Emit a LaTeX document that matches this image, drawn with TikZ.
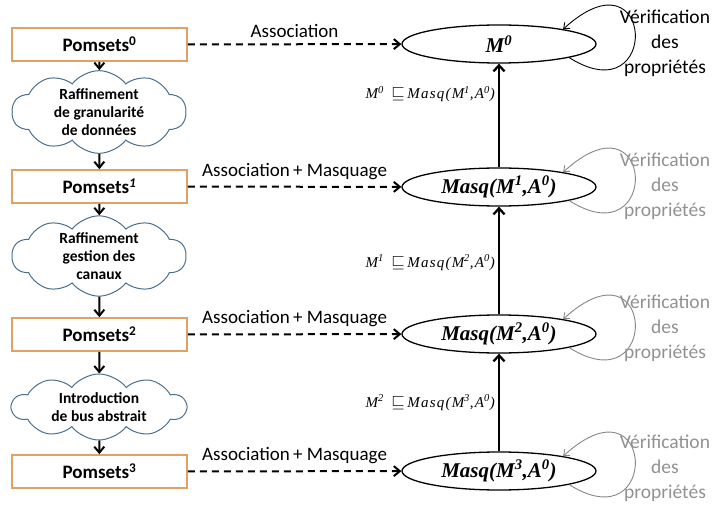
\documentclass[tikz,border=0pt]{standalone}
\usepackage{fontspec}
\setmainfont{Carlito}
\newfontfamily\tnr{Liberation Serif}
\newfontfamily\tnrs[LetterSpace=8]{Liberation Serif}
\usetikzlibrary{shapes.symbols,shapes.geometric,arrows.meta}
\definecolor{boxor}{RGB}{224,162,100}
\definecolor{cloudc}{RGB}{75,110,140}
\definecolor{grayc}{RGB}{130,135,140}
\definecolor{grayt}{RGB}{145,145,145}
\newcommand{\sqle}{{\fontsize{18}{18}\selectfont$\sqsubseteq$}}
\begin{document}
\begin{tikzpicture}[x=1pt,y=-1pt,
 pbox/.style={draw=boxor, fill=white, line width=1.6pt, minimum width=175pt, minimum height=33pt, font=\fontsize{19}{20}\selectfont\bfseries, inner sep=0pt},
 cl/.style={cloud, cloud puffs=10, cloud puff arc=105, draw=cloudc, line width=1pt, cloud ignores aspect, minimum width=174pt, minimum height=66pt, align=center, font=\fontsize{15.5}{18}\selectfont\bfseries, inner sep=0pt},
 el/.style={ellipse, draw, line width=1.3pt, minimum width=194pt, minimum height=38pt, inner sep=0pt, font=\tnr\fontsize{21}{24}\selectfont\bfseries\itshape},
 down/.style={-{Straight Barb[length=6pt,width=10pt]}, line width=2pt},
 assoc/.style={-{Straight Barb[length=6pt,width=10pt]}, line width=2pt, dash pattern=on 7pt off 5pt},
 up/.style={-{Straight Barb[length=6pt,width=11pt]}, line width=2.3pt},
 loopc/.style={-{Straight Barb[length=5pt,width=8pt]}, line width=0.9pt},
 atxt/.style={font=\fontsize{19}{20}\selectfont, inner sep=0pt},
 vtxt/.style={align=center, font=\fontsize{19.5}{25}\selectfont, inner sep=0pt},
 lab/.style={font=\tnrs\fontsize{15}{16}\selectfont\itshape, inner sep=0pt, anchor=east}
]
\useasboundingbox (0,0) rectangle (714,505);

% left column
\node[pbox] (p0) at (99.5,44.5) {Pomsets\textsuperscript{0}};
\node[cl] (c0) at (99,112) {Raffinement\\de granularité\\de données};
\node[pbox] (p1) at (99.5,186.5) {Pomsets\textsuperscript{\textit{1}}};
\node[cl] (c1) at (99,256) {Raffinement\\gestion des\\canaux};
\node[pbox] (p2) at (99.5,334.5) {Pomsets\textsuperscript{2}};
\node[cl] (c2) at (99,407) {Introduction\\de bus abstrait};
\node[pbox] (p3) at (99.5,471.5) {Pomsets\textsuperscript{3}};

\draw[down] (p0) -- (c0);
\draw[down] (c0) -- (p1);
\draw[down] (p1) -- (c1);
\draw[down] (c1) -- (p2);
\draw[down] (p2) -- (c2);
\draw[down] (c2) -- (p3);

% right column
\node[el] (e0) at (499,44) {M\textsuperscript{0}};
\node[el] (e1) at (499,187) {Masq(M\textsuperscript{1},A\textsuperscript{0})};
\node[el] (e2) at (499,334) {Masq(M\textsuperscript{2},A\textsuperscript{0})};
\node[el] (e3) at (499,471) {Masq(M\textsuperscript{3},A\textsuperscript{0})};

\draw[assoc] (p0) -- node[atxt, above=6pt] {Association} (e0);
\draw[assoc] (p1) -- node[atxt, above=6pt] {Association\,+ Masquage} (e1);
\draw[assoc] (p2) -- node[atxt, above=6pt] {Association\,+ Masquage} (e2);
\draw[assoc] (p3) -- node[atxt, above=6pt] {Association\,+ Masquage} (e3);

\draw[up] (e1) -- node[lab, pos=0.71, xshift=-3pt] {M\textsuperscript{0}\enspace\sqle\,Masq(M\textsuperscript{1},A\textsuperscript{0})} (e0);
\draw[up] (e2) -- node[lab, pos=0.48, xshift=-3pt] {M\textsuperscript{1}\enspace\sqle\,Masq(M\textsuperscript{2},A\textsuperscript{0})} (e1);
\draw[up] (e3) -- node[lab, pos=0.5, xshift=-3pt] {M\textsuperscript{2}\enspace\sqle\,Masq(M\textsuperscript{3},A\textsuperscript{0})} (e2);

% loops
\draw[loopc] (e0.-11) .. controls +(92,58) and +(92,-84) .. (e0.13);
\draw[loopc, grayc] (e1.-11) .. controls +(92,58) and +(92,-84) .. (e1.13);
\draw[loopc, grayc] (e2.-11) .. controls +(92,58) and +(92,-84) .. (e2.13);
\draw[loopc, grayc] (e3.-11) .. controls +(92,58) and +(92,-84) .. (e3.13);

\node[vtxt] (v0) at (665,43) {Vérification\\des\\propriétés};
\node[vtxt, text=grayt] (v1) at (665,186) {Vérification\\des\\propriétés};
\node[vtxt, text=grayt] (v2) at (665,328) {Vérification\\des\\propriétés};
\node[vtxt, text=grayt] (v3) at (665,468) {Vérification\\des\\propriétés};
\end{tikzpicture}
\end{document}
